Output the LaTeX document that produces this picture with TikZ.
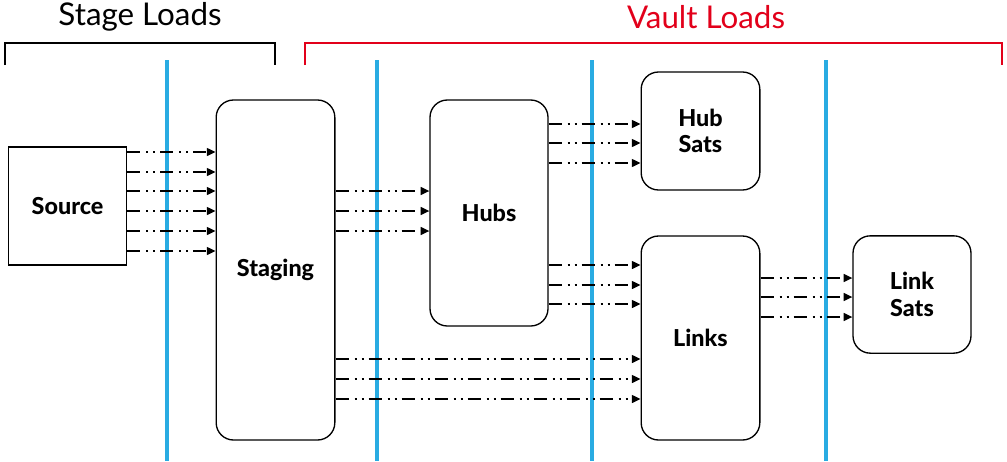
\documentclass[tikz,border=0pt]{standalone}
\usepackage{fontspec}
\setmainfont{Lato}
\newfontfamily\heavyfont{Lato Heavy}
\usetikzlibrary{arrows.meta,calc}
\definecolor{lane}{RGB}{41,171,226}
\definecolor{vaultred}{RGB}{226,0,26}
\begin{document}
\begin{tikzpicture}[x=0.75pt,y=-0.75pt,
  box/.style={draw=black,line width=1pt,rounded corners=13pt,align=center,
    font=\fontsize{17.5}{20}\heavyfont,inner sep=0pt},
  flow/.style={draw=black,line width=1pt,
    dash pattern=on 9.75pt off 4.5pt on 1.5pt off 3.75pt on 1.5pt off 3.75pt,
    -{Triangle[length=6.5pt,width=6pt]}},
  lanes/.style={draw=lane,line width=2.3pt},
  brace/.style={line width=1.9pt},
  title/.style={font=\fontsize{23.5}{23.5}\selectfont}]
\useasboundingbox (0,0) rectangle (1007,461);

% swim-lane separators
\foreach \x in {167,377,592,826}
  \draw[lanes] (\x,60) -- (\x,461);

% phase brackets
\draw[brace,black] (5,65) -- (5,43) -- (275,43) -- (275,65);
\node[title] (stagetitle) at (140,17) {Stage Loads};
\draw[brace,vaultred] (305,65) -- (305,43) -- (1002,43) -- (1002,65);
\node[title,text=vaultred] (vaulttitle) at (706,17) {Vault Loads};

% tables
\node[box,rounded corners=0pt,minimum width=88.5pt,minimum height=88.5pt] (src) at (67.5,206) {Source};
\node[box,minimum width=89pt,minimum height=255pt] (stg) at (275.5,270) {Staging};
\node[box,minimum width=88.5pt,minimum height=169.5pt] (hub) at (489,213) {Hubs};
\node[box,minimum width=89pt,minimum height=88.5pt] (hsat) at (700.5,131) {Hub\\Sats};
\node[box,minimum width=89pt,minimum height=153pt] (lnk) at (700.5,338) {Links};
\node[box,minimum width=88.5pt,minimum height=88pt] (lsat) at (912,294.5) {Link\\Sats};

% data flows
\foreach \y in {152,172,191,211,231,251}
  \draw[flow] (src.east |- 0,\y) -- (stg.west |- 0,\y);
\foreach \y in {191,211,231}
  \draw[flow] (stg.east |- 0,\y) -- (hub.west |- 0,\y);
\foreach \y in {124,143,163}
  \draw[flow] (hub.east |- 0,\y) -- (hsat.west |- 0,\y);
\foreach \y in {265,285,304}
  \draw[flow] (hub.east |- 0,\y) -- (lnk.west |- 0,\y);
\foreach \y in {359,379,399}
  \draw[flow] (stg.east |- 0,\y) -- (lnk.west |- 0,\y);
\foreach \y in {278,297,317}
  \draw[flow] (lnk.east |- 0,\y) -- (lsat.west |- 0,\y);
\end{tikzpicture}
\end{document}
